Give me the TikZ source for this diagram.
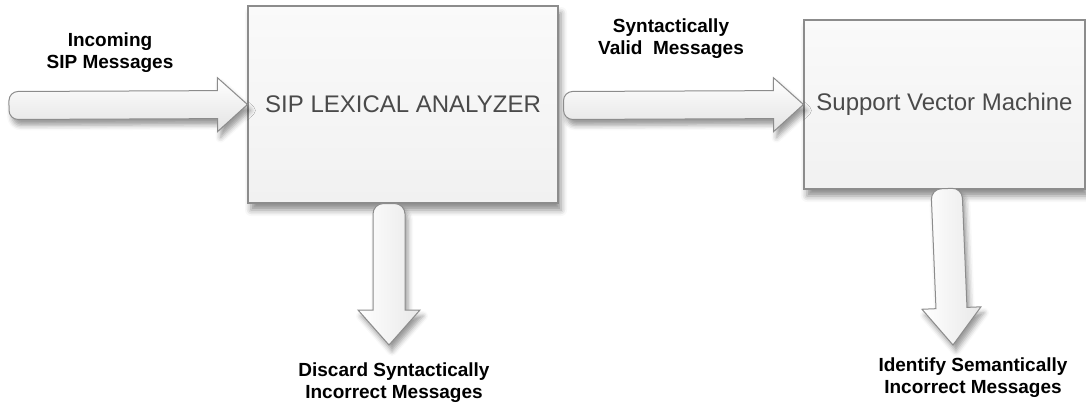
\documentclass[tikz,border=0pt]{standalone}
\usepackage{fontspec}
\setmainfont{Liberation Sans}
\usetikzlibrary{calc,shadows.blur}

\definecolor{edge}{HTML}{8C8C8C}
\definecolor{boxtext}{HTML}{4A4A4A}

\tikzset{
  stage/.style={draw=edge, line width=1.1pt, inner sep=0pt,
    top color=white!98!black, bottom color=white!94.5!black,
    text=boxtext, font=\fontsize{24}{28}\selectfont,
    blur shadow={shadow xshift=3pt, shadow yshift=-7pt,
      shadow blur radius=6pt, shadow opacity=45}},
  label/.style={font=\bfseries\fontsize{19}{22}\selectfont,
    align=center, inner sep=0pt, text=black},
  flowarrow/.style={draw=edge, line width=1pt,
    blur shadow={shadow xshift=3pt, shadow yshift=-6pt,
      shadow blur radius=5pt, shadow opacity=40}},
  across/.style={top color=white, bottom color=white!89!black},
  down/.style={left color=white, right color=white!91!black},
}

% Block arrow from #2 to #3 with a rounded tail.
% #4 shaft half width, #5 head half width, #6 head length (all in pt).
\newcommand\blockarrow[6][]{%
  \path (#2) coordinate (ba-s) (#3) coordinate (ba-e);
  \pgfpointdiff{\pgfpointanchor{ba-s}{center}}{\pgfpointanchor{ba-e}{center}}%
  \pgfgetlastxy\bax\bay
  \pgfmathsetmacro\balen{veclen(\bax,\bay)}%
  \pgfmathsetmacro\baux{\bax/\balen}%
  \pgfmathsetmacro\bauy{\bay/\balen}%
  \pgfmathsetmacro\bavx{-\bauy}%
  \pgfmathsetmacro\bahb{\balen-#6}%
  \pgfmathsetmacro\bar{0.65*#4}%
  \begin{scope}[shift={(ba-s)}, x={(\baux pt,\bauy pt)}, y={(\bavx pt,\baux pt)}]
    \draw[flowarrow,#1] (\bahb,#4) -- (\bar,#4)
      arc[start angle=90, end angle=180, radius=\bar]
      -- (0,-#4+\bar)
      arc[start angle=180, end angle=270, radius=\bar]
      -- (\bahb,-#4) -- (\bahb,-#5) -- (\balen,0) -- (\bahb,#5) -- cycle;
  \end{scope}}

\begin{document}
\begin{tikzpicture}[x=1pt, y=-1pt]
  \useasboundingbox (0,0) rectangle (1086,405);

  % processing stages
  \node[stage, minimum width=310pt, minimum height=197pt] (sip) at (403,104.5)
    {SIP LEXICAL ANALYZER};
  \node[stage, minimum width=281pt, minimum height=169pt] (svm) at (944.5,104.5)
    {Support Vector Machine};

  % captions
  \node[label] (lin)      at (110,53)    {Incoming\\SIP Messages};
  \node[label] (lvalid)   at (671,38.5)  {Syntactically\\Valid~ Messages};
  \node[label] (ldiscard) at (394,382.5) {Discard Syntactically\\Incorrect Messages};
  \node[label] (lident)   at (973,378)   {Identify Semantically\\Incorrect Messages};

  % arrow ends
  \coordinate (src) at (9,105.5);
  \coordinate (sipout) at ($(sip.east)+(5,1)$);
  \coordinate (d1s) at ($(sip.south)+(-14,0)$);
  \coordinate (d1e) at (389,345);
  \coordinate (d2s) at ($(svm.south)+(2,-1)$);
  \coordinate (d2e) at (953,345);

  % flows between the stages
  \blockarrow[across]{src}{sip.west}{14}{27}{30}
  \blockarrow[across]{sipout}{svm.west}{14}{27}{30}
  \blockarrow[down]{d1s}{d1e}{16}{31}{35}
  \blockarrow[down]{d2s}{d2e}{15.5}{29.5}{37}
\end{tikzpicture}
\end{document}
